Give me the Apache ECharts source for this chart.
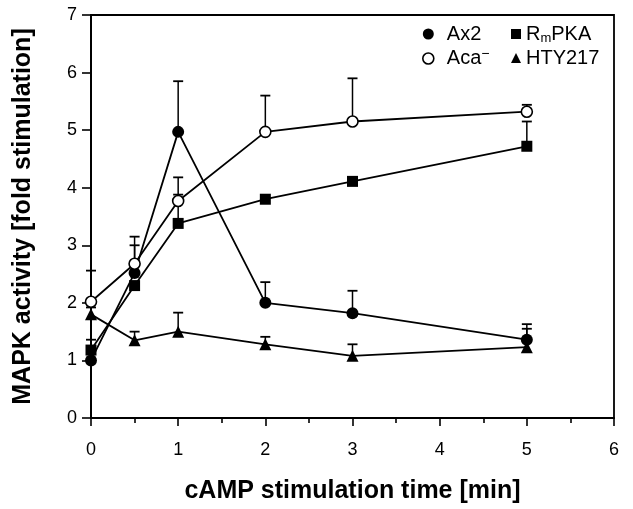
<!DOCTYPE html>
<html>
<head>
<meta charset="utf-8">
<script src="https://cdn.jsdelivr.net/npm/echarts@6/dist/echarts.min.js"></script>
<style>
  html, body { margin: 0; padding: 0; background: #fff; }
  #main { width: 633px; height: 509px; }
</style>
</head>
<body>
<div id="main"></div>
<script>
// stimulation times (min)
const times = [0, 0.5, 1, 2, 3, 5];

// mean fold stimulation
const ax2 = [1.0, 2.52, 4.97, 2.0, 1.82, 1.36];
const aca = [2.02, 2.68, 3.77, 4.97, 5.15, 5.32];
const rmpka = [1.18, 2.3, 3.38, 3.8, 4.11, 4.72];
const hty217 = [1.8, 1.35, 1.5, 1.28, 1.08, 1.23];

// top of the error bars (null = no bar visible)
const ax2Err = [null, 3.0, 5.85, 2.36, 2.21, 1.63];
const acaErr = [2.56, 3.15, 4.18, 5.6, 5.9, 5.44];
const rmpkaErr = [1.36, null, 3.88, null, null, 5.15];
const hty217Err = [1.92, 1.5, 1.83, 1.41, 1.28, 1.55];

const xTicks = [0, 1, 2, 3, 4, 5, 6];
const yTicks = [0, 1, 2, 3, 4, 5, 6, 7];

let myChart = echarts.init(document.getElementById('main'));

const font = 'Liberation Sans, Arial, Helvetica, sans-serif';

function pts(vals) {
    return times.map((t, i) => [t, vals[i]]);
}

function errData(vals, tops) {
    let out = [];
    times.forEach((t, i) => {
        if (tops[i] != null) out.push([t, vals[i], tops[i]]);
    });
    return out;
}

function errSeries(vals, tops) {
    return {
        type: 'custom',
        z: 1,
        silent: true,
        data: errData(vals, tops),
        renderItem: function (params, api) {
            let p0 = api.coord([api.value(0), api.value(1)]);
            let p1 = api.coord([api.value(0), api.value(2)]);
            let hw = 5;
            return {
                type: 'group',
                children: [
                    {
                        type: 'line',
                        shape: { x1: p0[0], y1: p0[1], x2: p1[0], y2: p1[1] },
                        style: { stroke: '#000', lineWidth: 1.5 }
                    },
                    {
                        type: 'line',
                        shape: { x1: p1[0] - hw, y1: p1[1], x2: p1[0] + hw, y2: p1[1] },
                        style: { stroke: '#000', lineWidth: 1.8 }
                    }
                ]
            };
        }
    };
}

function lineSeries(name, vals, symbol, size, fill) {
    return {
        name: name,
        type: 'line',
        z: 3,
        data: pts(vals),
        symbol: symbol,
        symbolSize: size,
        showAllSymbol: true,
        lineStyle: { color: '#000', width: 1.8 },
        itemStyle: { color: fill, borderColor: '#000', borderWidth: fill === '#fff' ? 1.6 : 0 },
        emphasis: { disabled: true },
        animation: false
    };
}

const legendText = {
    fontFamily: font,
    fontSize: 20,
    color: '#000',
    padding: [0, 0, 0, 8],
    rich: {
        a: { fontFamily: font, fontSize: 20, color: '#000' },
        sub: { fontFamily: font, fontSize: 13, color: '#000', verticalAlign: 'bottom', padding: [9, 0, 0, 0] },
        sup: { fontFamily: font, fontSize: 14, color: '#000', verticalAlign: 'top', padding: [0, 0, 9, 0] }
    }
};

function legendFmt(name) {
    if (name === 'RmPKA') return '{a|R}{sub|m}{a|PKA}';
    if (name === 'Aca-') return '{a|Aca}{sup|−}';
    return '{a|' + name + '}';
}

const filled = { color: '#000', borderWidth: 0 };
const open = { color: '#fff', borderColor: '#000', borderWidth: 1.6 };

let option = {
    backgroundColor: '#fff',
    animation: false,
    grid: {
        left: 91,
        right: 19,
        top: 15,
        bottom: 89,
        show: true,
        borderColor: '#000',
        borderWidth: 1.8,
        backgroundColor: 'transparent'
    },
    legend: [
        {
            data: [
                { name: 'Ax2', icon: 'circle', itemStyle: filled },
                { name: 'Aca-', icon: 'circle', itemStyle: open }
            ],
            orient: 'vertical',
            left: 422,
            top: 24,
            padding: 0,
            itemWidth: 11,
            itemHeight: 11,
            itemGap: 3,
            textStyle: legendText,
            formatter: legendFmt,
            selectedMode: false
        },
        {
            data: [
                { name: 'RmPKA', icon: 'rect', itemStyle: filled },
                { name: 'HTY217', icon: 'triangle', itemStyle: filled }
            ],
            orient: 'vertical',
            left: 511,
            top: 24,
            padding: 0,
            itemWidth: 10,
            itemHeight: 10,
            itemGap: 3,
            textStyle: Object.assign({}, legendText, { padding: [0, 0, 0, 0] }),
            formatter: legendFmt,
            selectedMode: false
        }
    ],
    xAxis: {
        type: 'value',
        min: xTicks[0],
        max: xTicks[xTicks.length - 1],
        interval: 1,
        name: 'cAMP stimulation time [min]',
        nameLocation: 'middle',
        nameGap: 61,
        nameTextStyle: { fontFamily: font, fontSize: 25, fontWeight: 'bold', color: '#000' },
        axisLine: { show: true, onZero: false, lineStyle: { color: '#000', width: 2 } },
        axisTick: { show: true, length: 8, lineStyle: { color: '#000', width: 1.6 } },
        minorTick: { show: true, splitNumber: 2, length: 5, lineStyle: { color: '#000', width: 1.6 } },
        axisLabel: { fontFamily: font, fontSize: 18, color: '#000', margin: 23 },
        splitLine: { show: false }
    },
    yAxis: {
        type: 'value',
        min: yTicks[0],
        max: yTicks[yTicks.length - 1],
        interval: 1,
        name: 'MAPK activity [fold stimulation]',
        nameLocation: 'middle',
        nameGap: 55,
        nameTextStyle: { fontFamily: font, fontSize: 25, fontWeight: 'bold', color: '#000' },
        axisLine: { show: true, onZero: false, lineStyle: { color: '#000', width: 2 } },
        axisTick: { show: true, length: 9, lineStyle: { color: '#000', width: 1.6 } },
        axisLabel: { fontFamily: font, fontSize: 18, color: '#000', margin: 14 },
        splitLine: { show: false }
    },
    series: [
        errSeries(ax2, ax2Err),
        errSeries(aca, acaErr),
        errSeries(rmpka, rmpkaErr),
        errSeries(hty217, hty217Err),
        lineSeries('Ax2', ax2, 'circle', 12, '#000'),
        lineSeries('RmPKA', rmpka, 'rect', 11, '#000'),
        lineSeries('HTY217', hty217, 'triangle', 12, '#000'),
        lineSeries('Aca-', aca, 'circle', 11, '#fff')
    ]
};

myChart.setOption(option);
</script>
</body>
</html>
